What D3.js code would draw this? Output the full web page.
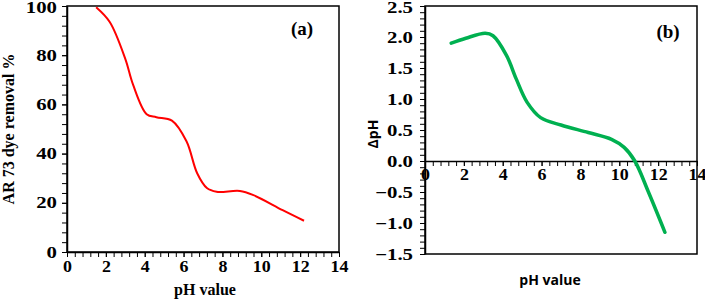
<!DOCTYPE html>
<html lang="en">
<head>
  <meta charset="UTF-8">
  <title>AR 73 dye removal and ΔpH vs pH</title>
  <script src="https://d3js.org/d3.v7.min.js"></script>
  <style>
    body {
      margin: 0;
      background: #fff;
    }
    svg {
      display: block;
    }
    .serif text, text.serif {
      font-family: "Liberation Serif", "Times New Roman", serif;
      font-weight: bold;
    }
    text.sans {
      font-family: "Open Sans", "Liberation Sans", sans-serif;
      font-weight: bold;
    }
  </style>
</head>
<body>
  <div id="chart"></div>
  <script>
    // panel (a): dye removal vs pH
    const phA = [1.5, 2.2, 3.0, 3.4, 4.1, 4.6, 5.4, 6.15, 6.7, 7.2, 7.7, 8.9, 9.6, 11.1, 12.2];
    const removal = [99.5, 93.5, 78.5, 68, 56, 54.8, 53.4, 45, 32, 26, 24.5, 24.8, 23.1, 17, 12.7];

    // panel (b): delta pH vs pH
    const phB = [1.35, 2.1, 3.1, 3.5, 4.2, 4.7, 5.25, 5.95, 7.0, 8.4, 9.6, 10.25, 10.8, 11.5, 12.35];
    const deltaPH = [1.9, 1.98, 2.06, 2.02, 1.7, 1.32, 0.95, 0.7, 0.58, 0.46, 0.35, 0.22, 0.0, -0.5, -1.15];

    const xMajor = [0, 2, 4, 6, 8, 10, 12, 14];
    const yMajorA = [0, 20, 40, 60, 80, 100];
    const yMajorB = [-1.5, -1.0, -0.5, 0.0, 0.5, 1.0, 1.5, 2.0, 2.5];

    const W = 705, H = 303;
    const svg = d3.select("#chart").append("svg")
      .attr("width", W)
      .attr("height", H);

    // stretch tick labels sideways, the source figure is squashed vertically
    function widen(sel, k) {
      sel.selectAll(".tick text").each(function() {
        const t = d3.select(this);
        const len = this.getComputedTextLength();
        if (len > 0) t.attr("textLength", len * k).attr("lengthAdjust", "spacingAndGlyphs");
      });
    }

    function minorTicks(lo, hi, step) {
      const out = [];
      const n = Math.round((hi - lo) / step);
      for (let i = 0; i <= n; i++) out.push(+(lo + i * step).toFixed(3));
      return out;
    }

    // ---------- panel (a) ----------
    const xa = d3.scaleLinear().domain([0, 14]).range([67, 339]);
    const ya = d3.scaleLinear().domain([0, 100]).range([252, 6]);

    const ga = svg.append("g").attr("class", "serif");

    // frame
    ga.append("rect")
      .attr("x", xa(0)).attr("y", ya(100))
      .attr("width", xa(14) - xa(0)).attr("height", ya(0) - ya(100))
      .attr("fill", "none").attr("stroke", "#000").attr("stroke-width", 1.5);

    ga.append("g")
      .attr("transform", `translate(0,${ya(0)})`)
      .call(d3.axisBottom(xa).tickValues(minorTicks(0, 14, 0.4)).tickFormat("").tickSize(5).tickSizeOuter(0))
      .call(g => g.select(".domain").remove());
    const axA = ga.append("g")
      .attr("transform", `translate(0,${ya(0)})`)
      .call(d3.axisBottom(xa).tickValues(xMajor).tickFormat(d3.format("d")).tickSize(5).tickPadding(4).tickSizeOuter(0));
    axA.select(".domain").attr("stroke-width", 1.5);
    axA.selectAll("text").attr("font-size", 16).attr("fill", "#000");
    widen(axA, 1.12);

    ga.append("g")
      .attr("transform", `translate(${xa(0)},0)`)
      .call(d3.axisLeft(ya).tickValues(minorTicks(0, 100, 4)).tickFormat("").tickSize(5).tickSizeOuter(0))
      .call(g => g.select(".domain").remove());
    const ayA = ga.append("g")
      .attr("transform", `translate(${xa(0)},0)`)
      .call(d3.axisLeft(ya).tickValues(yMajorA).tickFormat(d3.format("d")).tickSize(5).tickPadding(5).tickSizeOuter(0));
    ayA.select(".domain").attr("stroke-width", 1.5);
    ayA.selectAll("text").attr("font-size", 16).attr("fill", "#000");
    ayA.selectAll(".tick text").filter(d => d === 100).attr("dy", "0.42em");
    widen(ayA, 1.3);

    const lineA = d3.line()
      .x((d, i) => xa(phA[i]))
      .y(d => ya(d))
      .curve(d3.curveCatmullRom.alpha(0.5));
    ga.append("path")
      .attr("d", lineA(removal))
      .attr("fill", "none")
      .attr("stroke", "#ff0000")
      .attr("stroke-width", 2);

    ga.append("text")
      .attr("x", 302).attr("y", 35)
      .attr("text-anchor", "middle")
      .attr("font-size", 19)
      .text("(a)");

    ga.append("text")
      .attr("transform", `translate(14,${(ya(0) + ya(100)) / 2}) rotate(-90)`)
      .attr("text-anchor", "middle")
      .attr("font-size", 16)
      .text("AR 73 dye removal %");

    ga.append("text")
      .attr("x", 205).attr("y", 295)
      .attr("text-anchor", "middle")
      .attr("font-size", 16)
      .text("pH value");

    // ---------- panel (b) ----------
    const xb = d3.scaleLinear().domain([0, 14]).range([425, 697]);
    const yb = d3.scaleLinear().domain([-1.5, 2.5]).range([254, 6]);

    const gb = svg.append("g").attr("class", "serif");

    gb.append("rect")
      .attr("x", xb(0)).attr("y", yb(2.5))
      .attr("width", xb(14) - xb(0)).attr("height", yb(-1.5) - yb(2.5))
      .attr("fill", "none").attr("stroke", "#000").attr("stroke-width", 1.5);

    gb.append("g")
      .attr("transform", `translate(0,${yb(0)})`)
      .call(d3.axisBottom(xb).tickValues(minorTicks(0, 14, 0.4)).tickFormat("").tickSize(5).tickSizeOuter(0))
      .call(g => g.select(".domain").remove());
    const axB = gb.append("g")
      .attr("transform", `translate(0,${yb(0)})`)
      .call(d3.axisBottom(xb).tickValues(xMajor).tickFormat(d3.format("d")).tickSize(5).tickPadding(3).tickSizeOuter(0));
    axB.select(".domain").attr("stroke-width", 1.5);
    axB.selectAll("text").attr("font-size", 16).attr("fill", "#000");
    widen(axB, 1.12);

    gb.append("g")
      .attr("transform", `translate(${xb(0)},0)`)
      .call(d3.axisLeft(yb).tickValues(minorTicks(-1.5, 2.5, 0.1)).tickFormat("").tickSize(5).tickSizeOuter(0))
      .call(g => g.select(".domain").remove());
    const ayB = gb.append("g")
      .attr("transform", `translate(${xb(0)},0)`)
      .call(d3.axisLeft(yb).tickValues(yMajorB).tickFormat(d3.format(".1f")).tickSize(5).tickPadding(7).tickSizeOuter(0));
    ayB.select(".domain").attr("stroke-width", 1.5);
    ayB.selectAll("text").attr("font-size", 16).attr("fill", "#000");
    ayB.selectAll(".tick text").filter(d => d === 2.5).attr("dy", "0.42em");
    widen(ayB, 1.3);

    const lineB = d3.line()
      .x((d, i) => xb(phB[i]))
      .y(d => yb(d))
      .curve(d3.curveCatmullRom.alpha(0.5));
    gb.append("path")
      .attr("d", lineB(deltaPH))
      .attr("fill", "none")
      .attr("stroke", "#00b050")
      .attr("stroke-width", 3.5)
      .attr("stroke-linecap", "round");

    gb.append("text")
      .attr("x", 668).attr("y", 38)
      .attr("text-anchor", "middle")
      .attr("font-size", 19)
      .text("(b)");

    svg.append("text")
      .attr("class", "sans")
      .attr("transform", `translate(378,134) rotate(-90)`)
      .attr("text-anchor", "middle")
      .attr("font-size", 14)
      .text("ΔpH");

    svg.append("text")
      .attr("class", "sans")
      .attr("x", 550).attr("y", 285)
      .attr("text-anchor", "middle")
      .attr("font-size", 14)
      .text("pH value");
  </script>
</body>
</html>
